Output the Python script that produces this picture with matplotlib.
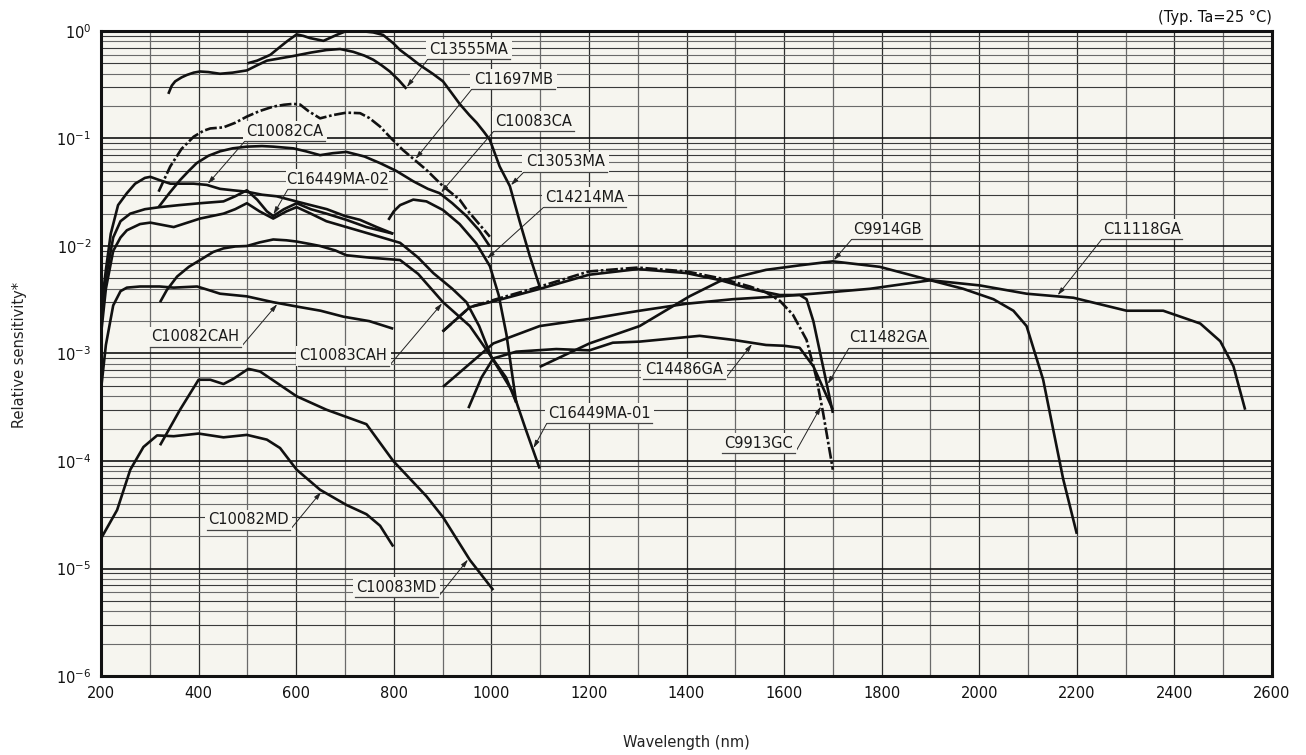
import matplotlib
matplotlib.use('Agg')
import matplotlib.pyplot as plt
import numpy as np
from matplotlib.patches import Rectangle
from matplotlib.lines import Line2D

# ---------------- data (wavelength nm, relative sensitivity) ----------------
c13555ma_wl = [338, 345, 352, 365, 376, 390, 403, 420, 444, 470, 499, 520, 540, 570, 594, 630, 662, 690, 717, 740, 758, 775, 792, 810, 826]
c13555ma_val = [0.26, 0.31, 0.34, 0.37, 0.39, 0.41, 0.42, 0.415, 0.40, 0.41, 0.43, 0.48, 0.53, 0.56, 0.585, 0.63, 0.665, 0.68, 0.64, 0.59, 0.54, 0.48, 0.42, 0.35, 0.29]

c13053ma_wl = [500, 520, 547, 565, 581, 601, 615, 628, 656, 683, 703, 731, 758, 778, 799, 813, 835, 854, 880, 901, 920, 935, 955, 970, 985, 997, 1017, 1038, 1058, 1079, 1099]
c13053ma_val = [0.50, 0.53, 0.60, 0.70, 0.80, 0.93, 0.90, 0.86, 0.81, 0.92, 1.0, 1.0, 0.97, 0.92, 0.77, 0.665, 0.56, 0.48, 0.40, 0.34, 0.26, 0.21, 0.165, 0.14, 0.115, 0.097, 0.055, 0.036, 0.017, 0.008, 0.0042]

c11697mb_wl = [318, 330, 342, 365, 390, 410, 424, 451, 475, 499, 525, 553, 575, 594, 608, 625, 649, 675, 703, 731, 750, 772, 795, 819, 845, 867, 901, 935, 949, 975, 997]
c11697mb_val = [0.032, 0.042, 0.055, 0.08, 0.104, 0.118, 0.124, 0.127, 0.14, 0.16, 0.18, 0.198, 0.206, 0.21, 0.207, 0.18, 0.154, 0.165, 0.174, 0.172, 0.155, 0.129, 0.10, 0.078, 0.062, 0.051, 0.036, 0.027, 0.022, 0.016, 0.0122]

c10083ca_wl = [318, 340, 362, 380, 396, 420, 444, 470, 499, 530, 553, 594, 620, 649, 675, 703, 740, 772, 805, 840, 870, 894, 920, 949, 975, 997]
c10083ca_val = [0.023, 0.031, 0.041, 0.05, 0.059, 0.069, 0.076, 0.081, 0.084, 0.085, 0.084, 0.081, 0.076, 0.070, 0.073, 0.075, 0.068, 0.059, 0.050, 0.040, 0.034, 0.031, 0.025, 0.019, 0.014, 0.0099]

c10082ca_wl = [200, 210, 220, 235, 253, 270, 290, 301, 320, 342, 370, 390, 417, 444, 470, 499, 530, 560, 600, 630, 663, 700, 731, 765, 799]
c10082ca_val = [0.0025, 0.006, 0.013, 0.024, 0.031, 0.038, 0.043, 0.044, 0.041, 0.038, 0.038, 0.038, 0.037, 0.034, 0.033, 0.032, 0.030, 0.029, 0.026, 0.024, 0.022, 0.019, 0.0175, 0.015, 0.013]

c16449ma02_wl = [200, 210, 225, 240, 260, 290, 321, 360, 403, 451, 475, 499, 520, 540, 553, 575, 601, 630, 662, 703, 744, 799]
c16449ma02_val = [0.0018, 0.005, 0.012, 0.017, 0.020, 0.022, 0.023, 0.024, 0.025, 0.026, 0.029, 0.033, 0.027, 0.021, 0.019, 0.022, 0.025, 0.022, 0.020, 0.0175, 0.015, 0.013]

c16449ma01_wl = [200, 210, 225, 240, 253, 280, 301, 349, 403, 451, 475, 499, 525, 553, 580, 601, 630, 662, 703, 750, 813, 850, 881, 920, 949, 975, 1000, 1045, 1070, 1099]
c16449ma01_val = [0.0015, 0.004, 0.009, 0.012, 0.014, 0.016, 0.0165, 0.015, 0.018, 0.020, 0.022, 0.025, 0.021, 0.018, 0.021, 0.023, 0.020, 0.017, 0.015, 0.013, 0.0107, 0.0078, 0.0056, 0.004, 0.003, 0.0018, 0.00093, 0.00043, 0.0002, 0.000085]

c10082cah_wl = [200, 210, 225, 240, 253, 280, 320, 349, 397, 420, 444, 499, 553, 608, 650, 697, 750, 799]
c10082cah_val = [0.00046, 0.0012, 0.0028, 0.0038, 0.0041, 0.0042, 0.0042, 0.0041, 0.0042, 0.0039, 0.0036, 0.0034, 0.0030, 0.0027, 0.0025, 0.0022, 0.0020, 0.0017]

c10083cah_wl = [321, 335, 356, 380, 403, 430, 451, 475, 499, 525, 553, 580, 601, 630, 649, 680, 703, 750, 813, 850, 901, 956, 1000, 1030, 1051]
c10083cah_val = [0.003, 0.0039, 0.0052, 0.0064, 0.0074, 0.0088, 0.0095, 0.0099, 0.010, 0.0108, 0.0115, 0.0113, 0.011, 0.0104, 0.010, 0.0091, 0.0082, 0.0078, 0.0074, 0.0055, 0.0030, 0.0018, 0.00093, 0.0006, 0.00035]

c14214ma_wl = [789, 800, 813, 840, 867, 901, 935, 969, 997, 1015, 1031, 1051]
c14214ma_val = [0.0175, 0.021, 0.024, 0.027, 0.026, 0.0216, 0.016, 0.0106, 0.0065, 0.0035, 0.0015, 0.00035]

c10082md_wl = [200, 233, 260, 287, 315, 349, 400, 451, 499, 540, 567, 601, 649, 703, 744, 772, 799]
c10082md_val = [1.9e-5, 3.5e-5, 8.3e-5, 1.35e-4, 1.73e-4, 1.7e-4, 1.8e-4, 1.66e-4, 1.75e-4, 1.58e-4, 1.32e-4, 8.3e-5, 5.4e-5, 3.9e-5, 3.2e-5, 2.5e-5, 1.6e-5]

c10083md_wl = [321, 362, 400, 424, 451, 471, 502, 526, 601, 662, 744, 799, 867, 901, 956, 1004]
c10083md_val = [1.4e-4, 3.0e-4, 5.7e-4, 5.7e-4, 5.2e-4, 5.8e-4, 7.2e-4, 6.8e-4, 4.0e-4, 3.0e-4, 2.2e-4, 1.0e-4, 4.7e-5, 3.0e-5, 1.2e-5, 6.3e-6]

c9913gc_wl = [900, 956, 1010, 1100, 1200, 1300, 1400, 1470, 1530, 1563, 1591, 1618, 1646, 1666, 1680, 1700]
c9913gc_val = [0.0016, 0.0027, 0.0032, 0.0042, 0.0058, 0.0063, 0.0058, 0.0050, 0.0042, 0.0037, 0.0031, 0.0023, 0.00134, 0.0006, 0.00028, 0.000083]

c11482ga_wl = [900, 956, 1010, 1100, 1200, 1300, 1400, 1470, 1530, 1591, 1632, 1646, 1660, 1680, 1700]
c11482ga_val = [0.0016, 0.0027, 0.0031, 0.0040, 0.0054, 0.0061, 0.0056, 0.0048, 0.0040, 0.0035, 0.0035, 0.0032, 0.0020, 0.00075, 0.00028]

c14486ga_wl = [953, 980, 1004, 1051, 1133, 1201, 1249, 1304, 1427, 1495, 1563, 1600, 1632, 1660, 1700]
c14486ga_val = [0.00031, 0.0006, 0.0009, 0.00104, 0.0011, 0.00107, 0.00126, 0.00129, 0.00146, 0.00134, 0.0012, 0.00118, 0.00113, 0.00076, 0.0003]

c9914gb_wl = [1099, 1201, 1304, 1406, 1468, 1563, 1631, 1700, 1796, 1900, 1967, 2029, 2070, 2097, 2131, 2172, 2200]
c9914gb_val = [0.00075, 0.00124, 0.0018, 0.0034, 0.0047, 0.006, 0.0066, 0.0072, 0.0064, 0.0048, 0.0040, 0.0032, 0.0025, 0.0018, 0.00057, 0.000068, 0.000021]

c11118ga_wl = [901, 1004, 1099, 1201, 1304, 1399, 1495, 1591, 1660, 1776, 1900, 2001, 2097, 2193, 2302, 2377, 2453, 2494, 2521, 2545]
c11118ga_val = [0.00049, 0.00124, 0.0018, 0.0021, 0.0025, 0.0029, 0.0032, 0.0034, 0.0036, 0.0040, 0.0048, 0.0043, 0.0036, 0.0033, 0.0025, 0.0025, 0.0019, 0.0013, 0.00076, 0.0003]

x_ticks = [200, 400, 600, 800, 1000, 1200, 1400, 1600, 1800, 2000, 2200, 2400, 2600]
y_exponents = [-6, -5, -4, -3, -2, -1, 0]

# ---------------- figure ----------------
W, H = 1306, 755
BG = '#f6f5ef'
INK = '#111111'
fig = plt.figure(figsize=(W / 100, H / 100), dpi=100)
L, R, T, B = 101, 1272, 31, 676
ax = fig.add_axes([L / W, 1 - B / H, (R - L) / W, (B - T) / H])
ax.set_facecolor(BG)
ax.set_yscale('log')
ax.set_xlim(200, 2600)
ax.set_ylim(1e-6, 1)

# grid
for i, x in enumerate(range(300, 2600, 100)):
    ax.axvline(x, color='#2e2e2e' if i % 2 else '#6a6a6a', lw=0.9, zorder=1)
for e in range(-6, 0):
    for m in range(2, 10):
        ax.axhline(m * 10.0 ** e, color='#3a3a3a' if m % 2 else '#6a6a6a', lw=0.8, zorder=1)
for e in range(-5, 0):
    ax.axhline(10.0 ** e, color='#111111', lw=1.2, zorder=1)

for s in ax.spines.values():
    s.set_linewidth(2.2)
    s.set_color(INK)
    s.set_zorder(6)

ax.set_xticks(x_ticks)
ax.set_xticklabels([str(v) for v in x_ticks])
ax.set_yticks([10.0 ** e for e in y_exponents])
ax.set_yticklabels([r'$\mathregular{10^{%d}}$' % e for e in y_exponents])
ax.minorticks_off()
ax.tick_params(length=0, labelsize=10.5, colors=INK, pad=7)

LW = 1.9
DASHDOT = (0, (4.5, 1.0, 1.0, 1.0))
curves = {
    'C13555MA': (c13555ma_wl, c13555ma_val, '-'),
    'C13053MA': (c13053ma_wl, c13053ma_val, '-'),
    'C11697MB': (c11697mb_wl, c11697mb_val, DASHDOT),
    'C10083CA': (c10083ca_wl, c10083ca_val, '-'),
    'C10082CA': (c10082ca_wl, c10082ca_val, '-'),
    'C16449MA-02': (c16449ma02_wl, c16449ma02_val, '-'),
    'C16449MA-01': (c16449ma01_wl, c16449ma01_val, '-'),
    'C10082CAH': (c10082cah_wl, c10082cah_val, '-'),
    'C10083CAH': (c10083cah_wl, c10083cah_val, '-'),
    'C14214MA': (c14214ma_wl, c14214ma_val, '-'),
    'C10082MD': (c10082md_wl, c10082md_val, '-'),
    'C10083MD': (c10083md_wl, c10083md_val, '-'),
    'C9913GC': (c9913gc_wl, c9913gc_val, DASHDOT),
    'C11482GA': (c11482ga_wl, c11482ga_val, '-'),
    'C14486GA': (c14486ga_wl, c14486ga_val, '-'),
    'C9914GB': (c9914gb_wl, c9914gb_val, '-'),
    'C11118GA': (c11118ga_wl, c11118ga_val, '-'),
}
for name, (wl, val, ls) in curves.items():
    ax.plot(wl, val, color=INK, lw=LW, linestyle=ls, solid_capstyle='butt',
            solid_joinstyle='round', zorder=3, clip_on=True)


def curve_value(name, wl):
    w, v, _ = curves[name]
    return 10 ** np.interp(wl, w, np.log10(v))


def fx(px):
    return px / W


def fy(py):
    return 1 - py / H


# label annotations: (name, underline x0, x1, underline y (px), leader side, tip wavelength)
labels = [
    ('C13555MA', 428, 510, 59, 'L', 825),
    ('C11697MB', 472, 555, 89, 'L', 843),
    ('C10083CA', 494, 574, 131, 'L', 895),
    ('C13053MA', 524, 607, 172, 'L', 1038),
    ('C14214MA', 544, 626, 207, 'L', 989),
    ('C10082CA', 245, 325, 141, 'L', 417),
    ('C16449MA-02', 288, 387, 189, 'L', 552),
    ('C10082CAH', 150, 241, 347, 'R', 563),
    ('C10083CAH', 298, 389, 366, 'R', 901),
    ('C16449MA-01', 547, 652, 423, 'L', 1085),
    ('C14486GA', 643, 725, 379, 'R', 1536),
    ('C9913GC', 722, 795, 453, 'R', 1677),
    ('C11482GA', 849, 928, 348, 'L', 1688),
    ('C9914GB', 852, 922, 239, 'L', 1700),
    ('C11118GA', 1102, 1182, 239, 'L', 2159),
    ('C10082MD', 207, 290, 530, 'R', 653),
    ('C10083MD', 355, 438, 597, 'R', 954),
]
for name, x0, x1, uy, side, tipwl in labels:
    fig.patches.append(Rectangle((fx(x0 - 2), fy(uy)), (x1 - x0 + 4) / W, 20 / H,
                                 transform=fig.transFigure, facecolor=BG,
                                 edgecolor='none', zorder=7))
    fig.text(fx((x0 + x1) / 2), fy(uy - 10), name, ha='center', va='center',
             fontsize=10.5, color='#1a1a1a', zorder=8)
    fig.lines.append(Line2D([fx(x0), fx(x1)], [fy(uy), fy(uy)], transform=fig.transFigure,
                            color='#444444', lw=0.9, zorder=8))
    sx = x0 if side == 'L' else x1
    ax.annotate('', xy=(tipwl, curve_value(name, tipwl)), xycoords='data',
                xytext=(fx(sx), fy(uy)), textcoords='figure fraction',
                arrowprops=dict(arrowstyle='-|>,head_length=0.45,head_width=0.13',
                                color='#222222', lw=0.7, shrinkA=0, shrinkB=1),
                zorder=9, annotation_clip=False)

fig.text(fx(1272), fy(17), '(Typ. Ta=25 °C)', ha='right', va='center', fontsize=10.5, color=INK)
fig.text(fx(20), fy(355), 'Relative sensitivity*', rotation=90, ha='center', va='center',
         fontsize=10.5, color='#222222')
fig.text(fx(686), fy(743), 'Wavelength (nm)', ha='center', va='center', fontsize=10.5, color='#222222')

fig.savefig('out.png', dpi=100, facecolor='white')
